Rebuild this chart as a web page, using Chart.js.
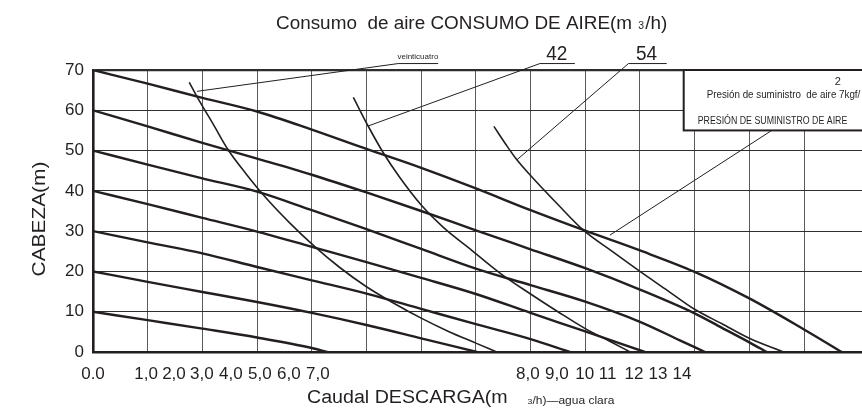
<!DOCTYPE html>
<html>
<head>
<meta charset="utf-8">
<script src="https://cdn.jsdelivr.net/npm/chart.js@4.4.1/dist/chart.umd.min.js"></script>
<style>
  html, body { margin: 0; padding: 0; background: #fff; }
  #wrap { width: 862px; height: 408px; position: relative; }
</style>
</head>
<body>
<div id="wrap"><canvas id="c" width="862" height="408"></canvas></div>
<script>
// Head (m) against discharge, one curve per supply pressure (kgf/cm2)
const pressure1 = [[0,10],[1,7.9],[2,5.8],[3,3.6],[4,1.0],[4.28,0]];
const pressure2 = [[0,20],[1,17.4],[2,14.9],[3,12.4],[4,9.7],[5,6.7],[6,3.4],[7.02,0]];
const pressure3 = [[0,30],[1,27.2],[2,24.5],[3,21.1],[4,17.8],[5,14.5],[6,10.7],[7,6.9],[8,3.2],[8.72,0]];
const pressure4 = [[0,40],[1,36.7],[2,33.3],[3,29.9],[4,26.1],[5,22.3],[6,18.4],[7,14.4],[8,9.7],[9,5.1],[10.09,0]];
const pressure5 = [[0,50],[1,46.5],[2,43.1],[3,39.8],[4,35.2],[5,30.5],[6,25.6],[7,20.7],[8,16.6],[9,12.5],[10,7.5],[10.73,2.9],[11.19,0]];
const pressure6 = [[0,60],[1,56],[2,51.9],[3,48],[4,44],[5,39.6],[6,35],[7,30.2],[8,25.5],[9,20.8],[10,15.5],[11,9.6],[11.5,6.0],[12,2.4],[12.32,0]];
const pressure7 = [[0,70],[1,66.6],[2,63.1],[3,59.7],[4,55.2],[5,50.4],[6,45.7],[7,40.6],[8,35.2],[9,30.1],[10,25.2],[11,19.9],[12,13.3],[13,5.6],[13.69,0]];

// Air consumption curves (m3/h)
const air24 = [[1.76,66.9],[1.9,63.4],[2.2,56.5],[2.47,50.2],[2.8,44.2],[3.14,38.6],[3.6,32],[4.06,26.1],[4.5,21.1],[5,16.2],[5.5,12.1],[6,8.4],[6.5,5.1],[7,2.2],[7.38,0]];
const air42 = [[4.76,63.2],[5.03,56.1],[5.31,49.4],[5.6,43.5],[6,36.5],[6.4,31],[6.92,25.3],[7.44,19.6],[8,14.4],[8.5,10],[9,5.8],[9.5,2.3],[9.82,0]];
const air54 = [[7.33,56],[7.55,51.5],[7.75,47.7],[8,43.8],[8.5,36.6],[8.96,30.3],[9.5,24.9],[10,20.0],[10.5,15.3],[11,10.6],[11.5,7.0],[12,3.4],[12.62,0]];

// Axis ticks
const headTickLabels = [0, 10, 20, 30, 40, 50, 60, 70];
const headGrid = [0, 5, 10, 15, 20, 25, 30, 35, 40, 45, 50, 55, 60, 65, 70];
const flowGrid = [0, 1, 2, 3, 4, 5, 6, 7, 8, 9, 10, 11, 12, 13];
const flowTickLabels = ['0.0','1,0','2,0','3,0','4,0','5,0','6,0','7,0','8,0','9,0','10','11','12','13','14'];
const flowTickAt = [0, 0.97, 1.48, 1.99, 2.52, 3.05, 3.58, 4.11, 7.95, 8.48, 8.99, 9.41, 9.89, 10.33, 10.77];

const INK = '#231f20';
const FONT = '"Liberation Sans", Arial, Helvetica, sans-serif';
const toXY = pts => pts.map(([x, y]) => ({ x, y }));

const pressureCurves = [pressure1, pressure2, pressure3, pressure4, pressure5, pressure6, pressure7];
const airCurves = [['24', air24], ['42', air42], ['54', air54]];

const datasets = [
  ...pressureCurves.map((pts, i) => ({
    label: (i + 1) + ' kgf/cm²',
    data: toXY(pts),
    borderColor: INK,
    borderWidth: 2.4,
    pointRadius: 0,
    cubicInterpolationMode: 'monotone',
    fill: false
  })),
  ...airCurves.map(([name, pts]) => ({
    label: name + ' m³/h',
    data: toXY(pts),
    borderColor: INK,
    borderWidth: 1.6,
    pointRadius: 0,
    cubicInterpolationMode: 'monotone',
    fill: false
  }))
];

// Draws consecutive text runs of different sizes on one baseline
function drawRuns(ctx, runs, x, y, stretch) {
  let cx = x;
  runs.forEach(([text, size, gap]) => {
    if (gap) { cx += gap; }
    if (!text) return;
    ctx.save();
    ctx.font = size + 'px ' + FONT;
    ctx.fillStyle = INK;
    ctx.textBaseline = 'alphabetic';
    ctx.textAlign = 'left';
    ctx.translate(cx, y);
    ctx.scale(stretch, 1);
    ctx.fillText(text, 0, 0);
    cx += ctx.measureText(text).width * stretch;
    ctx.restore();
  });
  return cx;
}

function drawText(ctx, text, x, y, size, align, stretch, rotate) {
  ctx.save();
  ctx.font = size + 'px ' + FONT;
  ctx.fillStyle = INK;
  ctx.textBaseline = 'alphabetic';
  ctx.textAlign = align;
  ctx.translate(x, y);
  if (rotate) ctx.rotate(rotate);
  ctx.scale(stretch, 1);
  ctx.fillText(text, 0, 0);
  ctx.restore();
}

function polyline(ctx, pts, width) {
  ctx.beginPath();
  pts.forEach(([a, b], i) => (i ? ctx.lineTo(a, b) : ctx.moveTo(a, b)));
  ctx.lineWidth = width;
  ctx.strokeStyle = INK;
  ctx.stroke();
}

const chartNotes = {
  id: 'chartNotes',
  afterDatasetsDraw(chart) {
    const { ctx, scales: { x, y }, chartArea } = chart;
    const px = v => x.getPixelForValue(v);
    const py = v => y.getPixelForValue(v);
    const tag = 71.6; // level of the label underlines, above the plot
    ctx.save();

    // Pointer lines from the air-consumption labels to their curves
    const a24 = air24[1], a42 = air42[1], a54 = air54[2];
    polyline(ctx, [[px(a24[0]), py(a24[1] + 1.3)], [px(5.58), py(tag)], [px(6.31), py(tag)]], 1);
    polyline(ctx, [[px(a42[0]), py(a42[1])], [px(8.17), py(tag)], [px(8.81), py(tag)]], 1);
    polyline(ctx, [[px(a54[0]), py(a54[1])], [px(9.79), py(tag)], [px(10.49), py(tag)]], 1);
    drawText(ctx, 'veinticuatro', px(5.94), py(tag) - 5, 8, 'center', 1);
    drawText(ctx, '42', px(8.48), py(tag) - 4, 20, 'center', 0.95);
    drawText(ctx, '54', px(10.12), py(tag) - 4, 20, 'center', 0.95);

    // Supply-pressure note box
    const bx = px(10.8), by = py(70), bb = py(55);
    polyline(ctx, [[px(9.45), py(29)], [px(12.41), bb]], 1);
    ctx.fillStyle = '#fff';
    ctx.fillRect(bx, by, chart.width - bx + 4, bb - by);
    ctx.lineWidth = 2;
    ctx.strokeStyle = INK;
    ctx.strokeRect(bx, by, chart.width - bx + 4, bb - by);
    drawText(ctx, '2', bx + 154, by + 15, 11, 'center', 1);
    drawText(ctx, 'Presión de suministro  de aire 7kgf/', bx + 23, by + 28, 10, 'left', 0.98);
    drawText(ctx, 'PRESIÓN DE SUMINISTRO DE AIRE', bx + 14, by + 54, 10, 'left', 0.88);

    ctx.restore();
  },
  afterDraw(chart) {
    const { ctx } = chart;
    // Title
    drawRuns(ctx, [['Consumo  de aire CONSUMO DE AIRE(m ', 18], ['3', 10, 1], ['/h)', 18, 1]], 276, 29, 1.05);
    // Horizontal axis title
    const end = drawRuns(ctx, [['Caudal DESCARGA(m', 18]], 307, 403, 1.09);
    drawRuns(ctx, [['3', 8], ['/h)—agua clara', 11]], end + 20, 404, 1.09);
    // Vertical axis title
    drawText(ctx, 'CABEZA(m)', 45, 219, 18, 'center', 1.16, -Math.PI / 2);
  }
};

new Chart(document.getElementById('c'), {
  type: 'line',
  data: { datasets },
  options: {
    responsive: false,
    animation: false,
    events: [],
    layout: { padding: { top: 70, left: 0, right: 0, bottom: 0 } },
    plugins: { legend: { display: false }, tooltip: { enabled: false }, title: { display: false } },
    scales: {
      x: {
        type: 'linear', position: 'bottom', min: 0, max: 14.06, weight: 0,
        afterBuildTicks: s => { s.ticks = flowGrid.map(v => ({ value: v })); },
        afterFit: s => { s.height = 0; },
        grid: { color: '#5b5b5b', lineWidth: 1, drawTicks: false },
        border: { display: true, color: INK, width: 2.6 },
        ticks: { display: false }
      },
      xl: {
        type: 'linear', position: 'bottom', min: 0, max: 14.06, weight: 1,
        afterBuildTicks: s => { s.ticks = flowTickAt.map(v => ({ value: v })); },
        afterFit: s => { s.height = 56; },
        grid: { display: false, drawTicks: false },
        border: { display: false },
        ticks: {
          autoSkip: false, maxRotation: 0, minRotation: 0, padding: 12,
          color: INK, font: { family: FONT, size: 17 },
          callback: (v, i) => flowTickLabels[i]
        }
      },
      y: {
        type: 'linear', position: 'left', min: 0, max: 70,
        afterBuildTicks: s => { s.ticks = headGrid.map(v => ({ value: v })); },
        afterFit: s => { s.width = 93; },
        grid: {
          color: '#2e2e2e', drawTicks: false,
          lineWidth: c => (c.tick && c.tick.value === 70 ? 2.2 : 1)
        },
        border: { display: true, color: INK, width: 2.6 },
        ticks: {
          padding: 9, color: INK, font: { family: FONT, size: 17 },
          callback: v => (headTickLabels.includes(v) ? String(v) : '')
        }
      }
    }
  },
  plugins: [chartNotes]
});
</script>
</body>
</html>
